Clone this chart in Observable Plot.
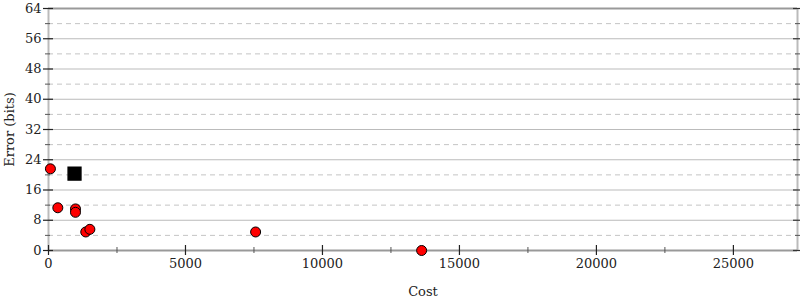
<!DOCTYPE html>
<html>
<head>
<meta charset="utf-8">
<script src="https://cdn.jsdelivr.net/npm/d3@7"></script>
<script src="https://cdn.jsdelivr.net/npm/@observablehq/plot@0.6"></script>
<style>
  html, body { margin: 0; padding: 0; background: #fff; }
  svg, svg text { font-family: "DejaVu Serif", serif !important; }
</style>
</head>
<body>
<div id="chart"></div>
<script>
// Data points (red circles)
const pointCost = [70, 340, 985, 985, 1360, 1510, 7560, 13620];
const pointError = [21.6, 11.3, 11.0, 10.1, 4.9, 5.6, 4.9, 0];
// Initial program (black square)
const startCost = [950];
const startError = [20.3];

const xMajor = [0, 5000, 10000, 15000, 20000, 25000];
const xMinor = [2500, 7500, 12500, 17500, 22500];
const yMajor = [0, 8, 16, 24, 32, 40, 48, 56, 64];
const yMinor = [4, 12, 20, 28, 36, 44, 52, 60];
const xMax = 27340;
const yMax = 64;

const points = pointCost.map((c, i) => ({cost: c, error: pointError[i]}));
const start = startCost.map((c, i) => ({cost: c, error: startError[i]}));

const chart = Plot.plot({
  width: 800,
  height: 300,
  marginLeft: 48,
  marginRight: 3,
  marginTop: 8,
  marginBottom: 50,
  style: {fontSize: "13px", background: "#fff", overflow: "visible"},
  x: {domain: [0, xMax]},
  y: {domain: [0, yMax]},
  marks: [
    Plot.gridY(yMinor, {stroke: "#c4c4c4", strokeOpacity: 1, strokeDasharray: "5,4"}),
    Plot.gridY(yMajor.filter(d => d > 0 && d < yMax), {stroke: "#bbb", strokeOpacity: 1}),
    Plot.ruleY([yMax], {stroke: "#999", strokeWidth: 2}),
    Plot.ruleX([0], {stroke: "#bbb", strokeWidth: 2}),
    Plot.ruleX([xMax], {stroke: "#bbb", strokeWidth: 2}),
    Plot.ruleY([0], {stroke: "#999", strokeWidth: 2}),
    // left axis ticks
    Plot.axisY(yMajor, {anchor: "left", tickSize: 10, dx: 5, fill: "none", stroke: "#222", strokeWidth: 1.2, label: null}),
    Plot.axisY(yMinor, {anchor: "left", tickSize: 5, dx: 2, fill: "none", stroke: "#555", label: null}),
    Plot.axisY(yMajor, {anchor: "left", tickSize: 0, tickPadding: 7, fill: "#222", label: "Error (bits)", labelAnchor: "center", labelArrow: "none", labelOffset: 44, fontSize: 13}),
    // right axis ticks
    Plot.axisY(yMajor, {anchor: "right", tickSize: 10, dx: -5, fill: "none", stroke: "#333", strokeWidth: 1.2, label: null}),
    Plot.axisY(yMinor, {anchor: "right", tickSize: 5, dx: -3, fill: "none", stroke: "#555", label: null}),
    // bottom axis
    Plot.axisX(xMajor, {anchor: "bottom", tickSize: 10, dy: -5, fill: "none", stroke: "#222", strokeWidth: 1.2, label: null}),
    Plot.axisX(xMinor, {anchor: "bottom", tickSize: 6, dy: -3, fill: "none", stroke: "#555", label: null}),
    Plot.axisX(xMajor, {anchor: "bottom", tickSize: 0, tickPadding: 8, fill: "#222", tickFormat: d => String(d), label: "Cost", labelAnchor: "center", labelArrow: "none", labelOffset: 45, fontSize: 13}),
    Plot.dot(points, {x: "cost", y: "error", r: 5, fill: "red", stroke: "#000", strokeWidth: 1}),
    Plot.dot(start, {x: "cost", y: "error", symbol: "square", r: 7.2, fill: "#000", stroke: "#000"})
  ]
});
document.getElementById("chart").appendChild(chart);
</script>
</body>
</html>
